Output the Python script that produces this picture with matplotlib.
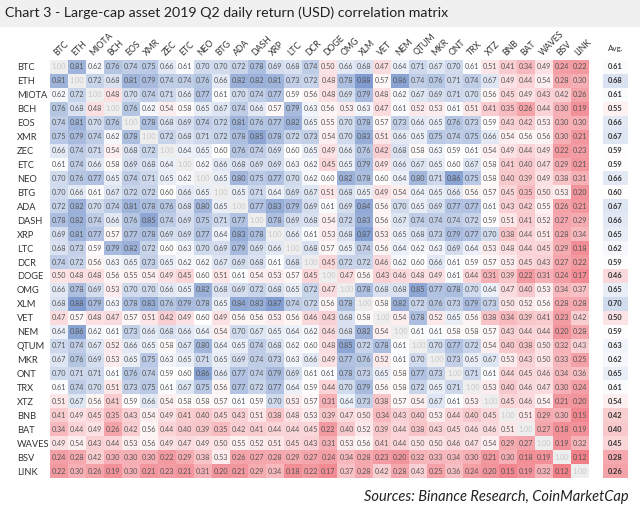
import numpy as np
import matplotlib.pyplot as plt
from matplotlib.colors import LinearSegmentedColormap, TwoSlopeNorm, to_rgba
from matplotlib.patches import Rectangle

# Assets in chart order
assets = ["BTC", "ETH", "MIOTA", "BCH", "EOS", "XMR", "ZEC", "ETC", "NEO", "BTG",
          "ADA", "DASH", "XRP", "LTC", "DCR", "DOGE", "OMG", "XLM", "VET", "NEM",
          "QTUM", "MKR", "ONT", "TRX", "XTZ", "BNB", "BAT", "WAVES", "BSV", "LINK"]

# Correlation rows
btc = [1.00, 0.81, 0.62, 0.76, 0.74, 0.75, 0.66, 0.61, 0.70, 0.70, 0.72, 0.78, 0.69, 0.68, 0.74, 0.50, 0.66, 0.68, 0.47, 0.64, 0.71, 0.67, 0.70, 0.61, 0.51, 0.41, 0.34, 0.49, 0.24, 0.22]
eth = [0.81, 1.00, 0.72, 0.68, 0.81, 0.79, 0.74, 0.74, 0.76, 0.66, 0.82, 0.82, 0.81, 0.73, 0.72, 0.48, 0.78, 0.88, 0.57, 0.86, 0.74, 0.76, 0.71, 0.74, 0.67, 0.49, 0.44, 0.54, 0.28, 0.30]
miota = [0.62, 0.72, 1.00, 0.48, 0.70, 0.74, 0.71, 0.66, 0.77, 0.61, 0.70, 0.74, 0.77, 0.59, 0.56, 0.48, 0.69, 0.79, 0.48, 0.62, 0.67, 0.69, 0.71, 0.70, 0.56, 0.45, 0.49, 0.43, 0.42, 0.26]
bch = [0.76, 0.68, 0.48, 1.00, 0.76, 0.62, 0.54, 0.58, 0.65, 0.67, 0.74, 0.66, 0.57, 0.79, 0.63, 0.56, 0.53, 0.63, 0.47, 0.61, 0.52, 0.53, 0.61, 0.51, 0.41, 0.35, 0.26, 0.44, 0.30, 0.19]
eos = [0.74, 0.81, 0.70, 0.76, 1.00, 0.78, 0.68, 0.69, 0.74, 0.72, 0.81, 0.76, 0.77, 0.82, 0.65, 0.55, 0.70, 0.78, 0.57, 0.73, 0.66, 0.65, 0.76, 0.73, 0.59, 0.43, 0.42, 0.53, 0.30, 0.30]
xmr = [0.75, 0.79, 0.74, 0.62, 0.78, 1.00, 0.72, 0.68, 0.71, 0.72, 0.78, 0.85, 0.78, 0.72, 0.73, 0.54, 0.70, 0.83, 0.51, 0.66, 0.65, 0.75, 0.74, 0.75, 0.66, 0.54, 0.56, 0.56, 0.30, 0.21]
zec = [0.66, 0.74, 0.71, 0.54, 0.68, 0.72, 1.00, 0.64, 0.65, 0.60, 0.76, 0.74, 0.69, 0.60, 0.65, 0.49, 0.66, 0.76, 0.42, 0.68, 0.58, 0.63, 0.59, 0.61, 0.54, 0.49, 0.44, 0.49, 0.22, 0.23]
etc = [0.61, 0.74, 0.66, 0.58, 0.69, 0.68, 0.64, 1.00, 0.62, 0.66, 0.68, 0.69, 0.69, 0.63, 0.62, 0.45, 0.65, 0.79, 0.49, 0.66, 0.67, 0.65, 0.60, 0.67, 0.58, 0.41, 0.40, 0.47, 0.29, 0.21]
neo = [0.70, 0.76, 0.77, 0.65, 0.74, 0.71, 0.65, 0.62, 1.00, 0.65, 0.80, 0.75, 0.77, 0.70, 0.62, 0.60, 0.82, 0.78, 0.60, 0.64, 0.80, 0.71, 0.86, 0.75, 0.58, 0.40, 0.39, 0.49, 0.38, 0.31]
btg = [0.70, 0.66, 0.61, 0.67, 0.72, 0.72, 0.60, 0.66, 0.65, 1.00, 0.65, 0.71, 0.64, 0.69, 0.67, 0.51, 0.68, 0.65, 0.49, 0.54, 0.64, 0.65, 0.66, 0.56, 0.57, 0.45, 0.35, 0.50, 0.53, 0.20]
ada = [0.72, 0.82, 0.70, 0.74, 0.81, 0.78, 0.76, 0.68, 0.80, 0.65, 1.00, 0.77, 0.83, 0.79, 0.69, 0.61, 0.69, 0.84, 0.56, 0.70, 0.65, 0.69, 0.77, 0.77, 0.61, 0.43, 0.42, 0.55, 0.26, 0.21]
dash = [0.78, 0.82, 0.74, 0.66, 0.76, 0.85, 0.74, 0.69, 0.75, 0.71, 0.77, 1.00, 0.78, 0.69, 0.68, 0.54, 0.72, 0.83, 0.56, 0.67, 0.74, 0.74, 0.74, 0.72, 0.59, 0.51, 0.41, 0.52, 0.27, 0.29]
xrp = [0.69, 0.81, 0.77, 0.57, 0.77, 0.78, 0.69, 0.69, 0.77, 0.64, 0.83, 0.78, 1.00, 0.66, 0.61, 0.53, 0.68, 0.87, 0.53, 0.65, 0.68, 0.73, 0.79, 0.77, 0.70, 0.38, 0.44, 0.51, 0.28, 0.34]
ltc = [0.68, 0.73, 0.59, 0.79, 0.82, 0.72, 0.60, 0.63, 0.70, 0.69, 0.79, 0.69, 0.66, 1.00, 0.68, 0.57, 0.65, 0.74, 0.56, 0.64, 0.62, 0.63, 0.69, 0.64, 0.53, 0.48, 0.44, 0.45, 0.29, 0.18]
dcr = [0.74, 0.72, 0.56, 0.63, 0.65, 0.73, 0.65, 0.62, 0.62, 0.67, 0.69, 0.68, 0.61, 0.68, 1.00, 0.45, 0.72, 0.72, 0.46, 0.62, 0.60, 0.66, 0.61, 0.59, 0.57, 0.53, 0.45, 0.43, 0.27, 0.22]
doge = [0.50, 0.48, 0.48, 0.56, 0.55, 0.54, 0.49, 0.45, 0.60, 0.51, 0.61, 0.54, 0.53, 0.57, 0.45, 1.00, 0.47, 0.56, 0.43, 0.46, 0.48, 0.49, 0.61, 0.44, 0.31, 0.39, 0.22, 0.31, 0.24, 0.17]
omg = [0.66, 0.78, 0.69, 0.53, 0.70, 0.70, 0.66, 0.65, 0.82, 0.68, 0.69, 0.72, 0.68, 0.65, 0.72, 0.47, 1.00, 0.78, 0.68, 0.68, 0.85, 0.77, 0.78, 0.70, 0.64, 0.47, 0.40, 0.53, 0.34, 0.37]
xlm = [0.68, 0.88, 0.79, 0.63, 0.78, 0.83, 0.76, 0.79, 0.78, 0.65, 0.84, 0.83, 0.87, 0.74, 0.72, 0.56, 0.78, 1.00, 0.58, 0.82, 0.72, 0.76, 0.73, 0.79, 0.73, 0.50, 0.52, 0.56, 0.28, 0.28]
vet = [0.47, 0.57, 0.48, 0.47, 0.57, 0.51, 0.42, 0.49, 0.60, 0.49, 0.56, 0.56, 0.53, 0.56, 0.46, 0.43, 0.68, 0.58, 1.00, 0.54, 0.78, 0.52, 0.65, 0.56, 0.38, 0.34, 0.39, 0.41, 0.23, 0.42]
nem = [0.64, 0.86, 0.62, 0.61, 0.73, 0.66, 0.68, 0.66, 0.64, 0.54, 0.70, 0.67, 0.65, 0.64, 0.62, 0.46, 0.68, 0.82, 0.54, 1.00, 0.61, 0.61, 0.58, 0.58, 0.57, 0.43, 0.44, 0.44, 0.20, 0.28]
qtum = [0.71, 0.74, 0.67, 0.52, 0.66, 0.65, 0.58, 0.67, 0.80, 0.64, 0.65, 0.74, 0.68, 0.62, 0.60, 0.48, 0.85, 0.72, 0.78, 0.61, 1.00, 0.70, 0.77, 0.72, 0.54, 0.40, 0.38, 0.50, 0.32, 0.43]
mkr = [0.67, 0.76, 0.69, 0.53, 0.65, 0.75, 0.63, 0.65, 0.71, 0.65, 0.69, 0.74, 0.73, 0.63, 0.66, 0.49, 0.77, 0.76, 0.52, 0.61, 0.70, 1.00, 0.73, 0.65, 0.67, 0.53, 0.43, 0.50, 0.33, 0.25]
ont = [0.70, 0.71, 0.71, 0.61, 0.76, 0.74, 0.59, 0.60, 0.86, 0.66, 0.77, 0.74, 0.79, 0.69, 0.61, 0.61, 0.78, 0.73, 0.65, 0.58, 0.77, 0.73, 1.00, 0.71, 0.61, 0.44, 0.45, 0.46, 0.34, 0.36]
trx = [0.61, 0.74, 0.70, 0.51, 0.73, 0.75, 0.61, 0.67, 0.75, 0.56, 0.77, 0.72, 0.77, 0.64, 0.59, 0.44, 0.70, 0.79, 0.56, 0.58, 0.72, 0.65, 0.71, 1.00, 0.53, 0.40, 0.46, 0.47, 0.30, 0.24]
xtz = [0.51, 0.67, 0.56, 0.41, 0.59, 0.66, 0.54, 0.58, 0.58, 0.57, 0.61, 0.59, 0.70, 0.53, 0.57, 0.31, 0.64, 0.73, 0.38, 0.57, 0.54, 0.67, 0.61, 0.53, 1.00, 0.45, 0.46, 0.54, 0.21, 0.20]
bnb = [0.41, 0.49, 0.45, 0.35, 0.43, 0.54, 0.49, 0.41, 0.40, 0.45, 0.43, 0.51, 0.38, 0.48, 0.53, 0.39, 0.47, 0.50, 0.34, 0.43, 0.40, 0.53, 0.44, 0.40, 0.45, 1.00, 0.51, 0.29, 0.30, 0.15]
bat = [0.34, 0.44, 0.49, 0.26, 0.42, 0.56, 0.44, 0.40, 0.39, 0.35, 0.42, 0.41, 0.44, 0.44, 0.45, 0.22, 0.40, 0.52, 0.39, 0.44, 0.38, 0.43, 0.45, 0.46, 0.46, 0.51, 1.00, 0.27, 0.18, 0.19]
waves = [0.49, 0.54, 0.43, 0.44, 0.53, 0.56, 0.49, 0.47, 0.49, 0.50, 0.55, 0.52, 0.51, 0.45, 0.43, 0.31, 0.53, 0.56, 0.41, 0.44, 0.50, 0.50, 0.46, 0.47, 0.54, 0.29, 0.27, 1.00, 0.19, 0.32]
bsv = [0.24, 0.28, 0.42, 0.30, 0.30, 0.30, 0.22, 0.29, 0.38, 0.53, 0.26, 0.27, 0.28, 0.29, 0.27, 0.24, 0.34, 0.28, 0.23, 0.20, 0.32, 0.33, 0.34, 0.30, 0.21, 0.30, 0.18, 0.19, 1.00, 0.12]
link = [0.22, 0.30, 0.26, 0.19, 0.30, 0.21, 0.23, 0.21, 0.31, 0.20, 0.21, 0.29, 0.34, 0.18, 0.22, 0.17, 0.37, 0.28, 0.42, 0.28, 0.43, 0.25, 0.36, 0.24, 0.20, 0.15, 0.19, 0.32, 0.12, 1.00]

# Average correlation per asset
avg = [0.61, 0.68, 0.61, 0.55, 0.66, 0.67, 0.59, 0.59, 0.66, 0.60, 0.67, 0.66, 0.65, 0.62, 0.59,
       0.46, 0.65, 0.70, 0.50, 0.59, 0.63, 0.62, 0.65, 0.61, 0.54, 0.42, 0.40, 0.45, 0.28, 0.26]

corr = np.array([btc, eth, miota, bch, eos, xmr, zec, etc, neo, btg, ada, dash, xrp, ltc, dcr,
                 doge, omg, xlm, vet, nem, qtum, mkr, ont, trx, xtz, bnb, bat, waves, bsv, link])
n = len(assets)

plt.rcParams["font.family"] = ["Lato", "DejaVu Sans"]

cmap = LinearSegmentedColormap.from_list("rwb", ["#f07a83", "#ffffff", "#7795cc"])
norm = TwoSlopeNorm(vmin=0.1, vcenter=0.6, vmax=0.9)

fig = plt.figure(figsize=(6.4, 5.15), dpi=100)

# title band
fig.patches.append(Rectangle((0, 1 - 26 / 515), 1, 26 / 515, transform=fig.transFigure,
                             color="#f0f0f0", zorder=0))
fig.text(0.008, 1 - 13 / 515, "Chart 3 - Large-cap asset 2019 Q2 daily return (USD) correlation matrix",
         fontsize=10.2, va="center", ha="left", color="#222222")

# main matrix
ax = fig.add_axes([50 / 640, 1 - 478 / 515, 539 / 640, 418 / 515])
colors = cmap(norm(corr))
for i in range(n):
    colors[i, i] = to_rgba("#eeeeee")
ax.imshow(colors, aspect="auto", interpolation="nearest")

for i in range(n):
    for j in range(n):
        c = "#c8c8c8" if i == j else "#555555"
        ax.text(j, i, f"{corr[i, j]:.2f}", ha="center", va="center", fontsize=5.2, color=c)

ax.set_xticks(range(n))
ax.set_xticklabels(assets, rotation=45, ha="left", rotation_mode="anchor", fontsize=6.3, color="#333333")
ax.xaxis.tick_top()
ax.set_yticks(range(n))
ax.set_yticklabels(assets, fontsize=6.7, color="#333333")
ax.tick_params(axis="x", length=0, pad=2)
ax.tick_params(axis="y", length=0, pad=24)
for lab in ax.get_yticklabels():
    lab.set_horizontalalignment("left")
for s in ax.spines.values():
    s.set_visible(False)

# average column
ax2 = fig.add_axes([603 / 640, 1 - 478 / 515, 25 / 640, 418 / 515])
avg_arr = np.array(avg).reshape(-1, 1)
ax2.imshow(cmap(norm(avg_arr)), aspect="auto", interpolation="nearest")
for i in range(n):
    ax2.text(0, i, f"{avg[i]:.2f}", ha="center", va="center", fontsize=5.4, color="#333333",
             fontweight="bold")
ax2.text(0, -1.3, "Avg.", ha="center", va="center", fontsize=5.8, color="#333333")
ax2.set_xticks([])
ax2.set_yticks([])
for s in ax2.spines.values():
    s.set_visible(False)

fig.text(0.982, 1 - 497 / 515, "Sources: Binance Research, CoinMarketCap", ha="right", va="center",
         fontsize=10.5, style="italic", color="#222222")

fig.savefig("out.png", dpi=100)
